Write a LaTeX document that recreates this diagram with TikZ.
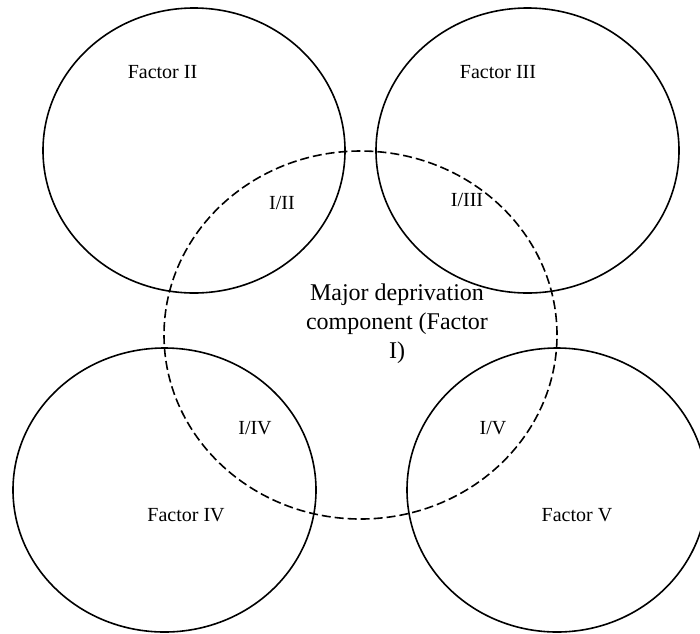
\documentclass[tikz,border=0pt]{standalone}
\usepackage{fontspec}
\setmainfont{Liberation Serif}
\usepackage{tikz}

\begin{document}
\begin{tikzpicture}[
    x = 0.5pt, y = -0.5pt,
    ring/.style = {draw, line width=0.8pt},
    dashring/.style = {ring, dash pattern=on 4.5pt off 2pt},
    lbl/.style = {font=\fontsize{10}{12}\selectfont},
    big/.style = {font=\fontsize{12}{14.5}\selectfont, align=center}
    ]
  \useasboundingbox (0,0) rectangle (700,633);

  % factors
  \draw[ring] (194,150.5) ellipse [x radius=75.5pt, y radius=71.25pt];
  \draw[ring] (527.5,150.5) ellipse [x radius=75.75pt, y radius=71.25pt];
  \draw[ring] (164.5,490) ellipse [x radius=75.75pt, y radius=71pt];
  \draw[ring] (557,490) ellipse [x radius=75pt, y radius=71pt];
  % major component
  \draw[dashring] (360.5,335) ellipse [x radius=98.25pt, y radius=92pt];

  \node[lbl] (f2) at (162.5,72) {Factor II} ;
  \node[lbl] (f3) at (498,72) {Factor III} ;
  \node[lbl] (f4) at (186,515) {Factor IV} ;
  \node[lbl] (f5) at (577,515) {Factor V} ;

  \node[lbl] (i2) at (282,203) {I/II} ;
  \node[lbl] (i3) at (467,200) {I/III} ;
  \node[lbl] (i4) at (255,428) {I/IV} ;
  \node[lbl] (i5) at (493,428) {I/V} ;

  \node[big] (major) at (397,324) {Major deprivation\\component (Factor\\I)} ;
\end{tikzpicture}
\end{document}
